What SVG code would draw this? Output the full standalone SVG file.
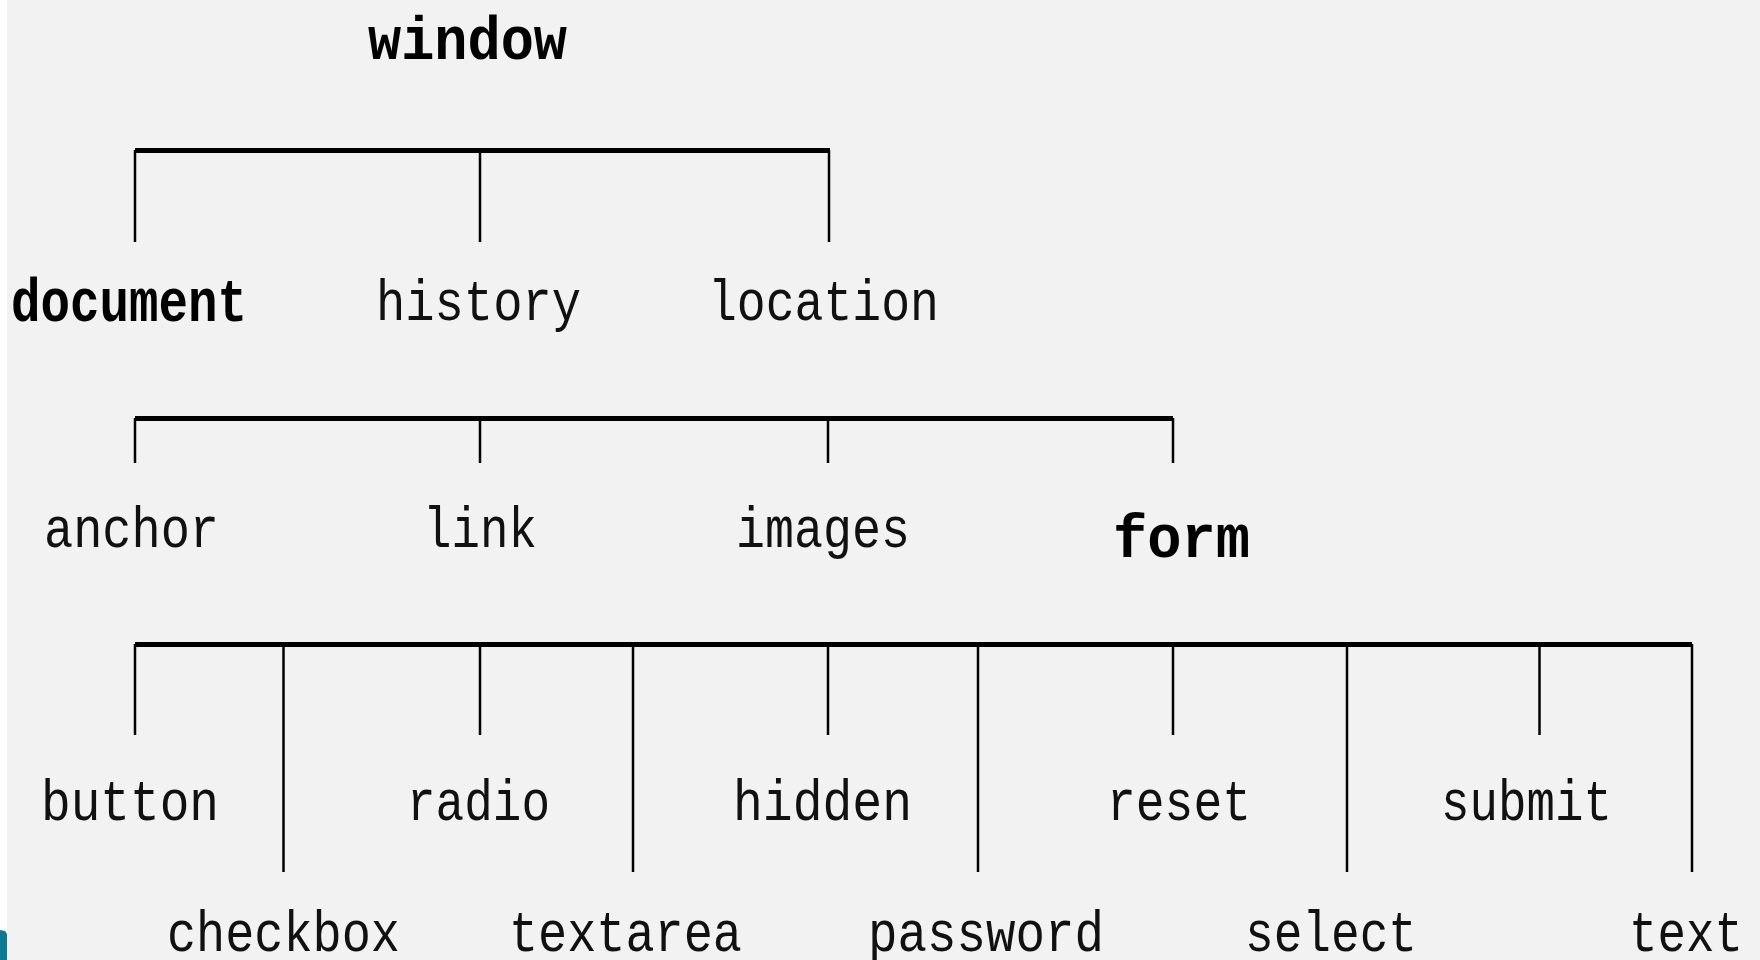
<svg xmlns="http://www.w3.org/2000/svg" width="1760" height="960" viewBox="0 0 1760 960">
<style>
.bg{fill:#f2f2f2}
.bar{stroke:#000;stroke-width:5;fill:none}
.stem{stroke:#000;stroke-width:2.5;fill:none}
text{font-family:"Liberation Mono","DejaVu Sans Mono",monospace;font-size:58px;fill:#111}
.b{font-weight:bold;font-size:62px;fill:#000}
</style>
<rect x="0" y="0" width="1760" height="960" fill="#ffffff"/>
<rect class="bg" x="7" y="0" width="1753" height="960"/>
<path d="M0,930 L5,931 L7,934 L7,960 L0,960 Z" fill="#0b7a95"/>
<g id="connectors">
<path class="bar" d="M135,150.5 H830"/>
<path class="stem" d="M135,150 V242 M480,150 V242 M829,150 V242"/>
<path class="bar" d="M135,418.5 H1173"/>
<path class="stem" d="M135,418 V463 M480,418 V463 M828,418 V463 M1173,418 V463"/>
<path class="bar" d="M135,644.5 H1692"/>
<path class="stem" d="M135,644 V735 M480,644 V735 M828,644 V735 M1173,644 V735 M1539.5,644 V735"/>
<path class="stem" d="M283.5,644 V872 M633,644 V872 M978,644 V872 M1347,644 V872 M1692,644 V872"/>
</g>
<g id="window"><text class="b" x="368" y="59" textLength="199" lengthAdjust="spacingAndGlyphs">window</text></g>
<g id="document"><text class="b" x="11" y="321" textLength="236" lengthAdjust="spacingAndGlyphs">document</text></g>
<g id="history"><text x="376" y="320" textLength="205" lengthAdjust="spacingAndGlyphs">history</text></g>
<g id="location"><text x="708" y="320" textLength="231" lengthAdjust="spacingAndGlyphs">location</text></g>
<g id="anchor"><text x="44" y="547" textLength="175" lengthAdjust="spacingAndGlyphs">anchor</text></g>
<g id="link"><text x="423" y="547" textLength="114" lengthAdjust="spacingAndGlyphs">link</text></g>
<g id="images"><text x="736" y="547" textLength="174" lengthAdjust="spacingAndGlyphs">images</text></g>
<g id="form"><text class="b" x="1113" y="557" textLength="137" lengthAdjust="spacingAndGlyphs">form</text></g>
<g id="button"><text x="41" y="820" textLength="178" lengthAdjust="spacingAndGlyphs">button</text></g>
<g id="radio"><text x="407" y="820" textLength="143" lengthAdjust="spacingAndGlyphs">radio</text></g>
<g id="hidden"><text x="733" y="820" textLength="179" lengthAdjust="spacingAndGlyphs">hidden</text></g>
<g id="reset"><text x="1107" y="820" textLength="144" lengthAdjust="spacingAndGlyphs">reset</text></g>
<g id="submit"><text x="1441" y="820" textLength="171" lengthAdjust="spacingAndGlyphs">submit</text></g>
<g id="checkbox"><text x="167" y="951" textLength="233" lengthAdjust="spacingAndGlyphs">checkbox</text></g>
<g id="textarea"><text x="509" y="951" textLength="233" lengthAdjust="spacingAndGlyphs">textarea</text></g>
<g id="password"><text x="868" y="951" textLength="236" lengthAdjust="spacingAndGlyphs">password</text></g>
<g id="select"><text x="1245" y="951" textLength="172" lengthAdjust="spacingAndGlyphs">select</text></g>
<g id="text"><text x="1629" y="951" textLength="114" lengthAdjust="spacingAndGlyphs">text</text></g>
</svg>
